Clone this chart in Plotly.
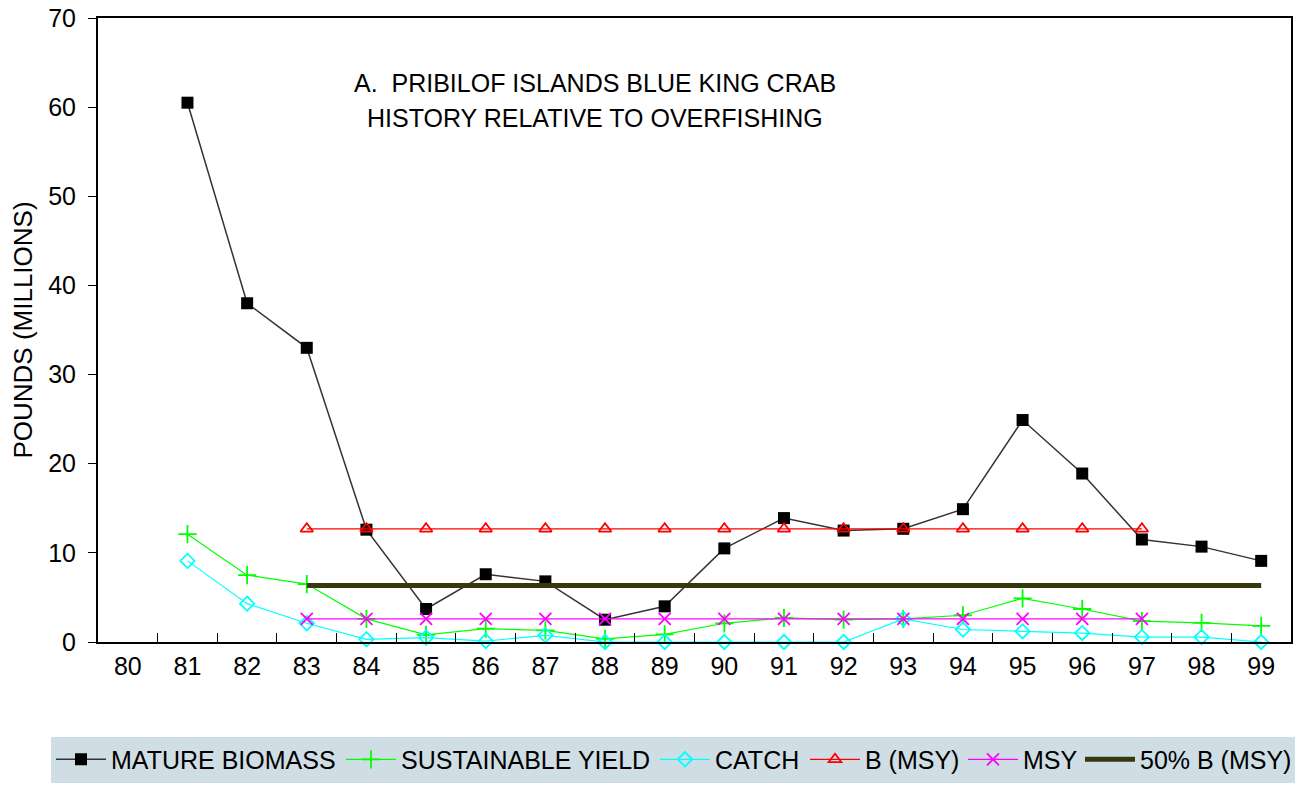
import plotly.graph_objects as go

# Season labels (19xx) shown on the category axis
years = [str(y) for y in range(80, 100)]

# Pounds (millions) by season; None where no value is plotted
mature_biomass = [None, 60.5, 38.0, 33.0, 12.6, 3.7, 7.6, 6.8, 2.5, 4.0,
                  10.5, 13.9, 12.5, 12.7, 14.9, 24.9, 18.9, 11.5, 10.7, 9.1]
sustainable_yield = [None, 12.1, 7.5, 6.5, 2.6, 0.8, 1.5, 1.3, 0.35, 0.85,
                     2.1, 2.7, 2.5, 2.6, 3.0, 4.9, 3.7, 2.35, 2.15, 1.8]
catch = [None, 9.1, 4.3, 2.1, 0.3, 0.5, 0.1, 0.75, 0.0, 0.0,
         0.0, 0.0, 0.0, 2.6, 1.4, 1.2, 1.0, 0.55, 0.55, 0.0]
b_msy = [None, None, None] + [12.7] * 15 + [None, None]
msy = [None, None, None] + [2.6] * 15 + [None, None]
half_b_msy = [None, None, None] + [6.35] * 17

FONT = "Liberation Sans, Arial, sans-serif"

fig = go.Figure()

fig.add_trace(go.Scatter(
    x=years, y=mature_biomass, name="MATURE BIOMASS", mode="lines+markers",
    line=dict(color="#333333", width=1.5),
    marker=dict(symbol="square", size=12, color="#000000"),
    cliponaxis=False, legendwidth=225,
))
fig.add_trace(go.Scatter(
    x=years, y=sustainable_yield, name="SUSTAINABLE YIELD", mode="lines+markers",
    line=dict(color="#00ff00", width=1.2),
    marker=dict(symbol="cross-thin", size=13, color="#00ff00",
                line=dict(color="#00ff00", width=1.8)),
    cliponaxis=False, legendwidth=249,
))
fig.add_trace(go.Scatter(
    x=years, y=catch, name="CATCH", mode="lines+markers",
    line=dict(color="#00ffff", width=1.2),
    marker=dict(symbol="diamond-open", size=11, color="#00ffff",
                line=dict(color="#00ffff", width=1.8)),
    cliponaxis=False, legendwidth=85,
))
fig.add_trace(go.Scatter(
    x=years, y=b_msy, name="B (MSY)", mode="lines+markers",
    line=dict(color="#ff0000", width=1.2),
    marker=dict(symbol="triangle-up-open", size=11, color="#ff0000",
                line=dict(color="#ff0000", width=1.8)),
    cliponaxis=False, legendwidth=93,
))
fig.add_trace(go.Scatter(
    x=years, y=msy, name="MSY", mode="lines+markers",
    line=dict(color="#ff00ff", width=1.2),
    marker=dict(symbol="x-thin", size=12, color="#ff00ff",
                line=dict(color="#ff00ff", width=1.8)),
    cliponaxis=False, legendwidth=52,
))
fig.add_trace(go.Scatter(
    x=years, y=half_b_msy, name="50% B (MSY)", mode="lines",
    line=dict(color="#38380f", width=5),
    cliponaxis=False, legendwidth=150,
))

title_font = dict(family=FONT, size=25, color="#000000")
fig.add_annotation(
    x=0.4167, y=0.8963, xref="paper", yref="paper",
    xanchor="center", yanchor="middle",
    text="A.\u00a0\u00a0PRIBILOF ISLANDS BLUE KING CRAB",
    showarrow=False, font=title_font,
)
fig.add_annotation(
    x=0.4167, y=0.8405, xref="paper", yref="paper",
    xanchor="center", yanchor="middle",
    text="HISTORY RELATIVE TO OVERFISHING",
    showarrow=False, font=title_font,
)

fig.update_layout(
    width=1295, height=785,
    margin=dict(l=98, r=2, t=18, b=140),
    paper_bgcolor="#ffffff", plot_bgcolor="#ffffff",
    font=dict(family=FONT, size=25, color="#000000"),
    showlegend=True,
    legend=dict(
        orientation="h", x=-0.0377, xanchor="left", y=-0.1515, yanchor="top",
        bgcolor="#cfdde4", borderwidth=0, itemwidth=50,
        font=dict(family=FONT, size=25, color="#000000"),
        tracegroupgap=0,
    ),
    xaxis=dict(
        type="category", categoryorder="array", categoryarray=years,
        range=[-0.5, 19.5], tickson="boundaries",
        ticks="inside", ticklen=9, tickcolor="#000000", tickwidth=1,
        showline=True, linecolor="#000000", linewidth=2, mirror=True,
        showgrid=False, zeroline=False,
        tickfont=dict(family=FONT, size=25, color="#000000"),
        ticklabelstandoff=1,
    ),
    yaxis=dict(
        range=[0, 70], tickvals=[0, 10, 20, 30, 40, 50, 60, 70],
        ticks="outside", ticklen=8, tickcolor="#000000", tickwidth=1,
        showline=True, linecolor="#000000", linewidth=2, mirror=True,
        showgrid=False, zeroline=False,
        tickfont=dict(family=FONT, size=25, color="#000000"),
        ticklabelstandoff=7,
        title=dict(text="POUNDS (MILLIONS)", font=dict(family=FONT, size=26), standoff=8),
    ),
)

fig.write_html("out.html")
